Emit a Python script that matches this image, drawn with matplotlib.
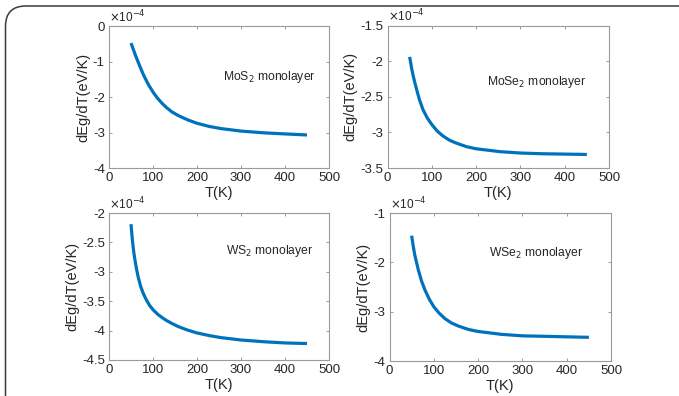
import matplotlib
matplotlib.use("Agg")
import matplotlib.pyplot as plt
from matplotlib.patches import FancyBboxPatch

plt.rcParams['font.family'] = ['Liberation Sans', 'DejaVu Sans']

T_mos2 = [50, 55, 60, 65, 70, 75, 80, 90, 100, 110, 120, 130, 143, 157, 178, 200, 228, 255, 300, 353, 400, 450]
mos2 = [-0.48, -0.65, -0.82, -0.98, -1.13, -1.28, -1.42, -1.66, -1.86, -2.03, -2.17, -2.29, -2.42, -2.52,
        -2.64, -2.74, -2.83, -2.89, -2.96, -3.01, -3.04, -3.07]

T_mose2 = [50, 55, 60, 65, 72, 80, 90, 100, 112, 125, 140, 155, 178, 200, 253, 300, 350, 400, 450]
mose2 = [-1.94, -2.12, -2.26, -2.38, -2.54, -2.68, -2.80, -2.89, -2.98, -3.05, -3.11, -3.15, -3.20, -3.23,
         -3.27, -3.29, -3.30, -3.305, -3.31]

T_ws2 = [50, 53, 56, 59, 62.5, 66, 72, 78, 85, 93, 102, 112, 121, 130, 142, 157, 178, 200, 228, 255, 300, 353, 400, 450]
ws2 = [-2.19, -2.45, -2.65, -2.80, -2.95, -3.08, -3.25, -3.37, -3.48, -3.58, -3.66, -3.73, -3.78, -3.825, -3.875,
       -3.93, -3.99, -4.04, -4.085, -4.12, -4.16, -4.19, -4.21, -4.22]

T_wse2 = [50, 53, 57, 65, 72, 80, 90, 100, 112, 125, 140, 155, 178, 199, 253, 300, 351, 400, 450]
wse2 = [-1.46, -1.64, -1.85, -2.15, -2.37, -2.56, -2.75, -2.90, -3.03, -3.14, -3.23, -3.29, -3.36, -3.40,
        -3.46, -3.49, -3.50, -3.51, -3.52]

labels = [r'MoS$_2$ monolayer', r'MoSe$_2$ monolayer', r'WS$_2$ monolayer', r'WSe$_2$ monolayer']
ylims = [(-4, 0), (-3.5, -1.5), (-4.5, -2), (-4, -1)]
yticks = [[0, -1, -2, -3, -4], [-1.5, -2, -2.5, -3, -3.5], [-2, -2.5, -3, -3.5, -4, -4.5], [-1, -2, -3, -4]]
xticks = [0, 100, 200, 300, 400, 500]
text_pos = [(258, -1.45), (224, -2.29), (266, -2.64), (225, -1.82)]

W, H = 679, 396
fig = plt.figure(figsize=(W / 100, H / 100), dpi=100)

boxes = [(109, 329, 26, 168), (387.5, 609, 25.5, 168), (109, 329, 213, 360), (389.5, 611, 213, 361)]
series = [(T_mos2, mos2), (T_mose2, mose2), (T_ws2, ws2), (T_wse2, wse2)]

for i, (box, (T, v)) in enumerate(zip(boxes, series)):
    l, r, t, b = box
    ax = fig.add_axes([l / W, 1 - b / H, (r - l) / W, (b - t) / H])
    ax.plot(T, v, color='#0072BD', lw=2.3, solid_capstyle='butt', solid_joinstyle='round')
    ax.set_xlim(0, 500)
    ax.set_ylim(*ylims[i])
    ax.set_xticks(xticks)
    ax.set_yticks(yticks[i])
    ax.set_yticklabels(['%g' % y for y in yticks[i]])
    ax.tick_params(direction='in', top=True, right=True, length=2.5, width=0.6,
                   colors='#8a8a8a', labelcolor='#262626', labelsize=9.5, pad=3)
    for sp in ax.spines.values():
        sp.set_color('#9a9a9a')
        sp.set_linewidth(0.8)
    ax.set_xlabel('T(K)', fontsize=10.5, color='#262626', labelpad=1.5)
    ax.set_ylabel('dEg/dT(eV/K)', fontsize=10.5, color='#262626', labelpad=2)
    ax.text(0.0, 1.005, r'$\times$10$^{-4}$', transform=ax.transAxes, fontsize=8.5,
            color='#262626', ha='left', va='bottom')
    ax.text(text_pos[i][0], text_pos[i][1], labels[i], fontsize=8.7, color='#262626',
            ha='left', va='center')

frame = FancyBboxPatch((5.5 / W, -0.2), 1.2, 1.2 - 6 / H,
                       boxstyle='round,pad=0,rounding_size=0.03',
                       transform=fig.transFigure, fill=False, edgecolor='#3a3a3a',
                       linewidth=1.1, mutation_aspect=W / H)
fig.patches.append(frame)

fig.savefig('out.png', dpi=100)
